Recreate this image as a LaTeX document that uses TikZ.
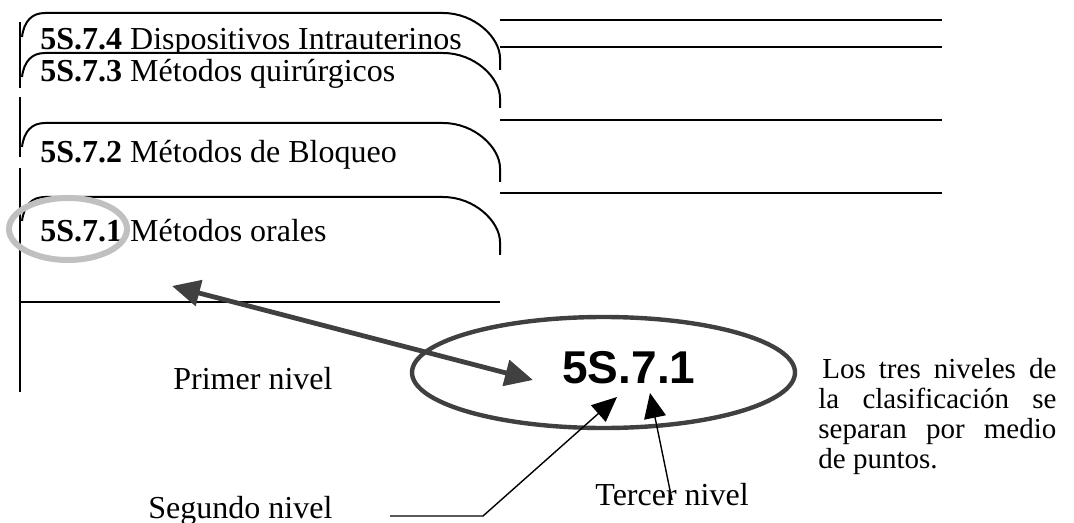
\documentclass[tikz,border=0pt]{standalone}
\usepackage{fontspec}
\setmainfont{Liberation Serif}
\newfontfamily\codefont{Liberation Sans}
\usetikzlibrary{shapes.geometric,arrows.meta}
\definecolor{ringgray}{HTML}{C0C0C0}
\definecolor{heavygray}{HTML}{404040}

\begin{document}
\begin{tikzpicture}[x=0.5pt, y=-0.5pt,
    rule/.style={line width=1pt},
    label/.style={inner sep=0pt, anchor=base west, font=\fontsize{16}{19}\selectfont},
    thin arrow/.style={line width=0.7pt, -{Triangle[length=12.5pt, width=11pt]}},
    heavy arrow/.style={line width=2.4pt, draw=heavygray,
        {Triangle[length=14pt, width=13pt]}-{Triangle[length=14pt, width=13pt]}}]
    \useasboundingbox (0,0) rectangle (1074,523);

    % left border and lines
    \draw[rule] (20,22) -- (20,88);
    \draw[rule] (20,97) -- (20,157);
    \draw[rule] (20,168) -- (20,392);
    \draw[rule] (20,302) -- (500,302);
    \foreach \y in {20,47,120,193}
        \draw[rule] (500,\y) -- (942,\y);

    % tabs
    \foreach \yt/\ye/\yb/\code/\name in {13/70/50/5S.7.4/Dispositivos Intrauterinos,
            53/108/82/5S.7.3/Métodos quirúrgicos,
            123/182/163/5S.7.2/Métodos de Bloqueo,
            197/255/242/5S.7.1/Métodos orales} {
        \fill[white] (22,\yt+24) .. controls (24,\yt+8) and (32,\yt) .. (45,\yt) -- (443,\yt)
            .. controls (475,\yt) and (500,\yt+25) .. (500,\yt+45) -- (500,\ye) -- (22,\ye) -- cycle;
        \draw[rule] (22,\yt+24) .. controls (24,\yt+8) and (32,\yt) .. (45,\yt) -- (443,\yt)
            .. controls (475,\yt) and (500,\yt+25) .. (500,\yt+45) -- (500,\ye);
        \node[label] at (40,\yb) {\textbf{\code} \name};
    }

    \node[draw=ringgray, line width=3pt, ellipse, minimum width=59pt, minimum height=31pt,
        inner sep=0pt] (mark) at (68,229) {};

    % the code and its levels
    \node[draw=heavygray, line width=2.2pt, ellipse, minimum width=191.5pt, minimum height=55.5pt,
        inner sep=0pt] (ring) at (603.5,372.5) {};
    \node[inner sep=0pt, anchor=base west, font=\codefont\bfseries\fontsize{23}{27}\selectfont]
        (code) at (562,383) {5S.7.1};

    \node[label] (first) at (173,389) {Primer nivel};
    \node[label] (second) at (148,518) {Segundo nivel};
    \node[label] (third) at (595,505) {Tercer nivel};
    \node[inner sep=0pt, anchor=north west, text width=119pt, align=justify,
        font=\fontsize{14.5}{15}\selectfont] (note) at (818,358)
        {\hspace*{2pt}Los tres niveles de\linebreak la clasificación se\linebreak separan por medio\linebreak de puntos.};

    \coordinate (orales) at (172,286);
    \coordinate (tipa) at (533,380);
    \coordinate (s2a) at (390,516);
    \coordinate (s2b) at (483,516);
    \coordinate (tipb) at (617,397);
    \coordinate (s3a) at (672,500);
    \coordinate (tipc) at (650,393);

    \draw[heavy arrow] (orales) -- (tipa);
    \draw[thin arrow] (s2a) -- (s2b) -- (tipb);
    \draw[thin arrow] (s3a) -- (tipc);
\end{tikzpicture}
\end{document}
